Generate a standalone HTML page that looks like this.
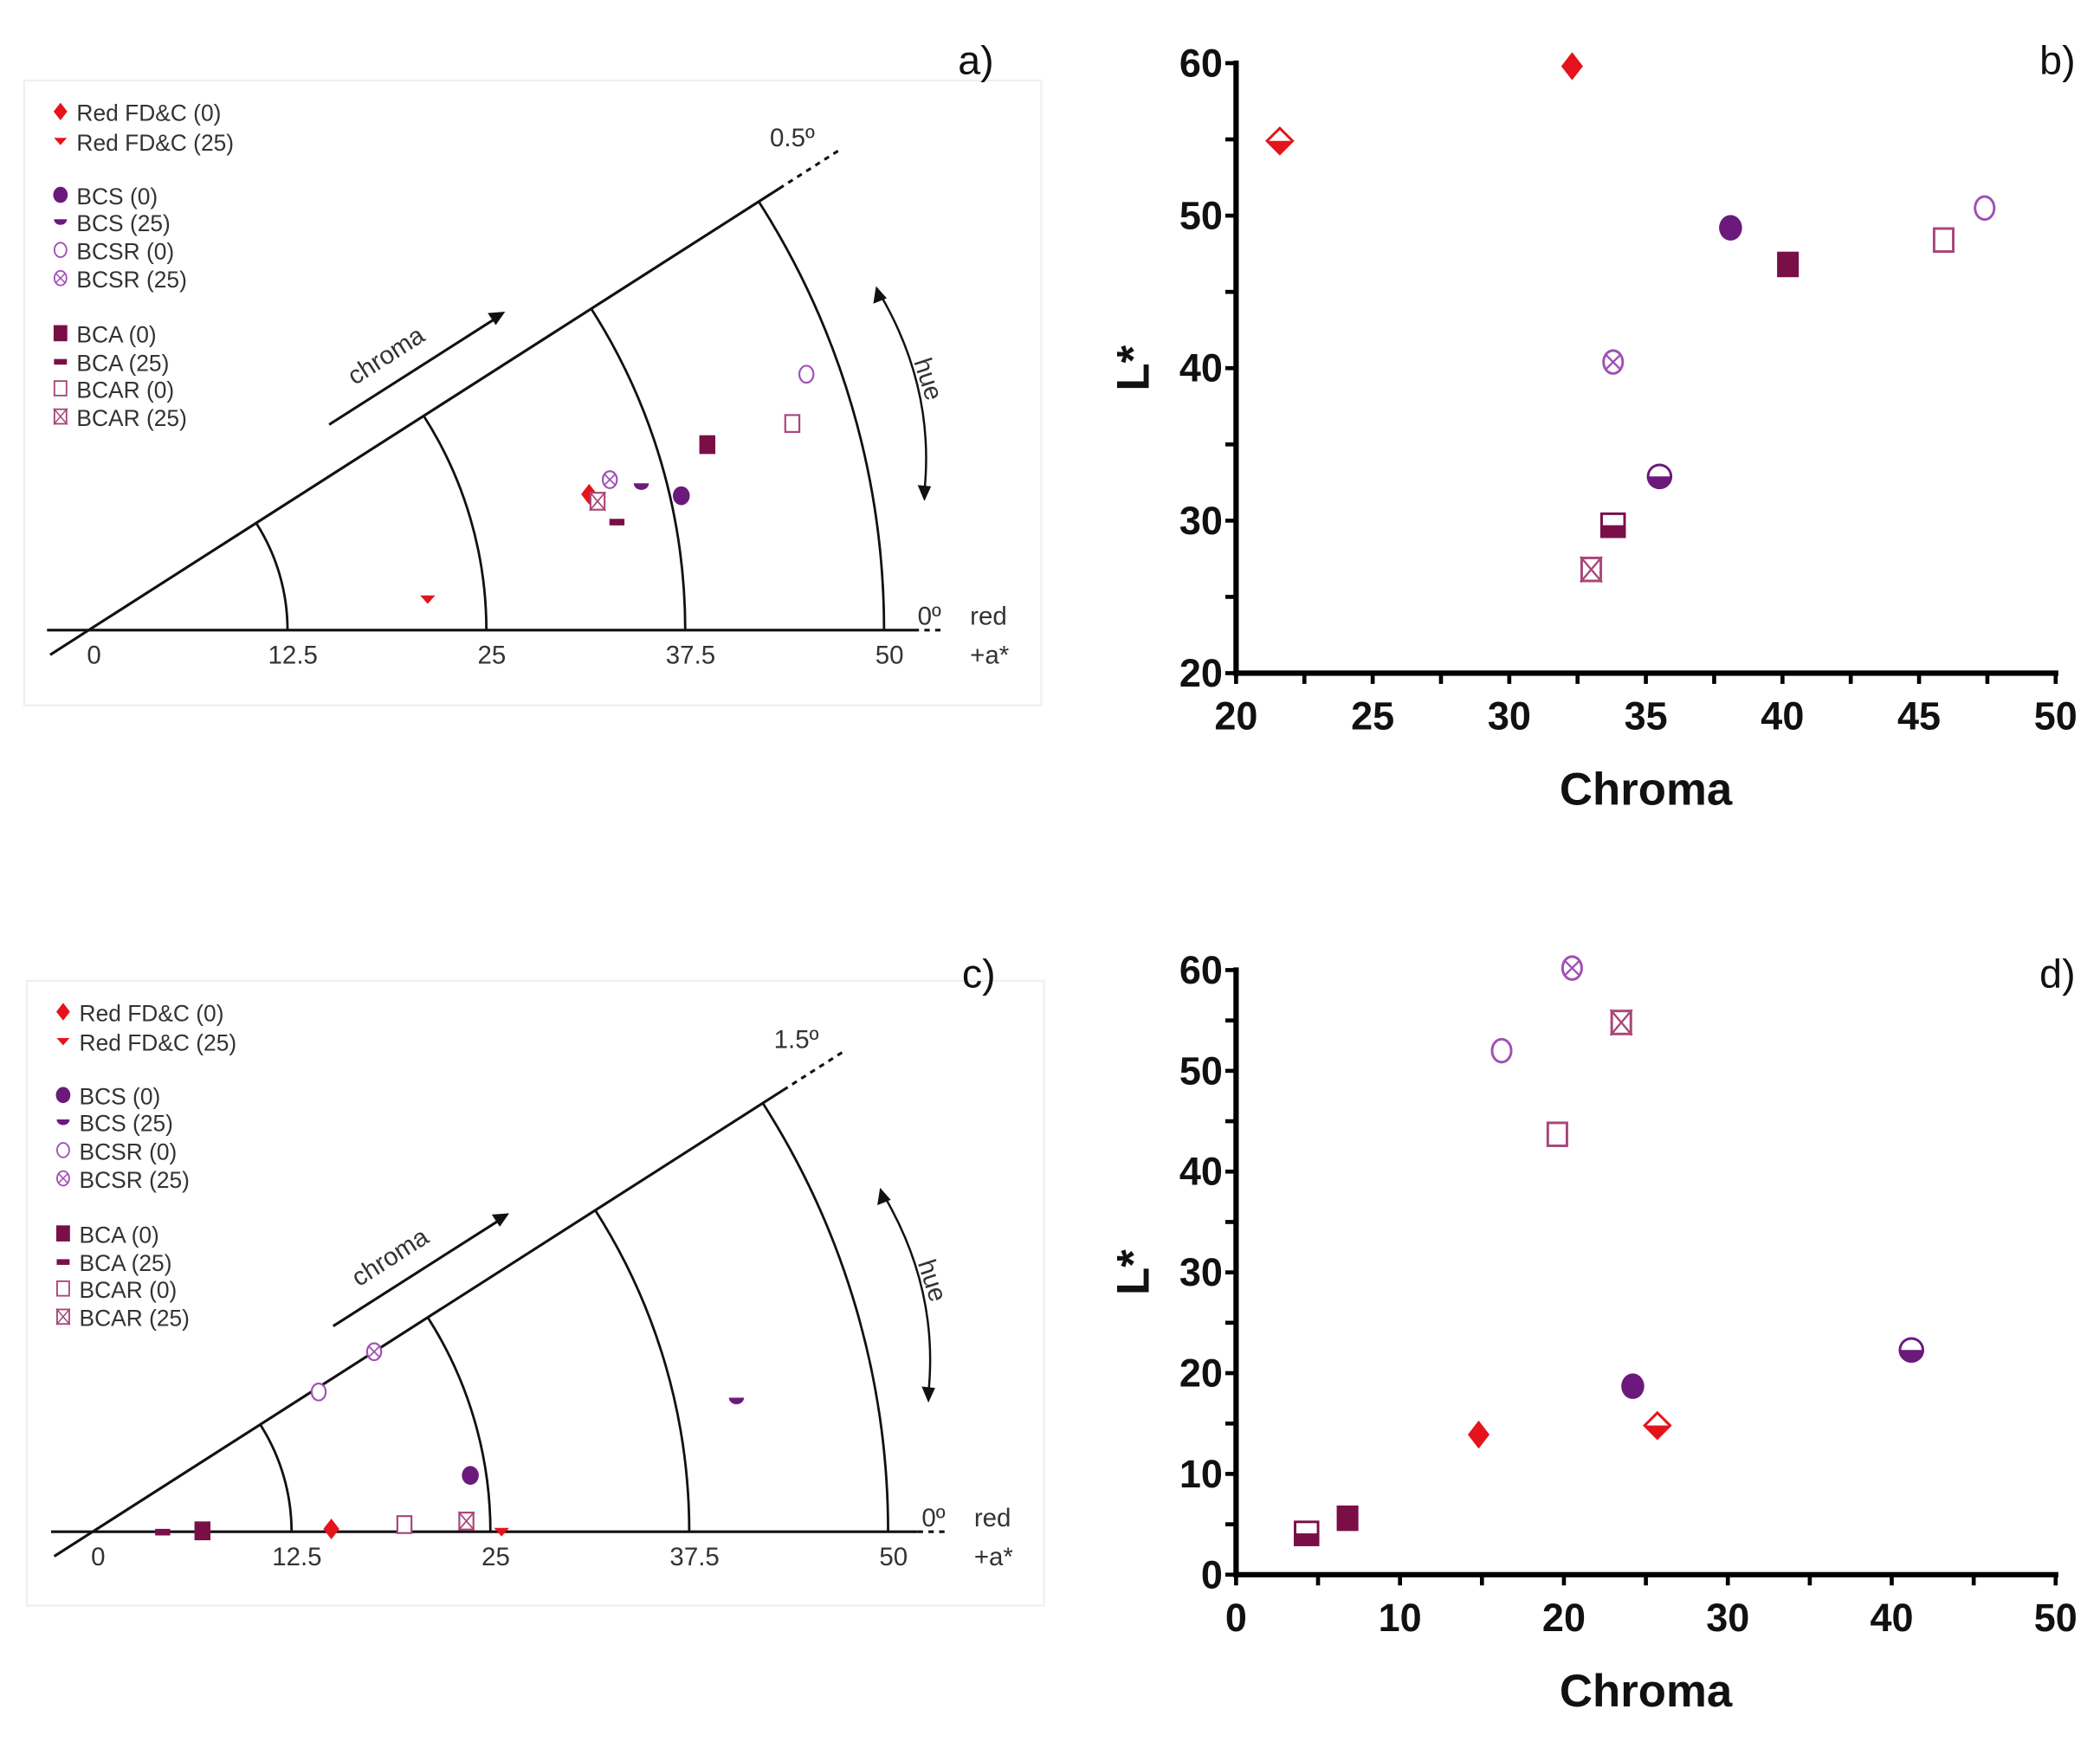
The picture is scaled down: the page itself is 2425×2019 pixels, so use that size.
<!DOCTYPE html>
<html><head><meta charset="utf-8"><style>
html,body{margin:0;padding:0;background:#fff;}
svg{display:block;}
text{font-family:"Liberation Sans",sans-serif;}
.lg{font-size:17px;fill:#333;font-family:"Liberation Sans Narrow","Liberation Sans",sans-serif;}
.pl{font-size:19px;fill:#333;}
.tk{font-size:29px;font-weight:bold;fill:#111;font-family:"Liberation Sans Narrow","Liberation Sans",sans-serif;}
.at{font-size:34px;font-weight:bold;fill:#111;}
.pn{font-size:30px;fill:#111;}
</style></head><body>
<svg id="fig" width="2425" height="2019" viewBox="0 0 1563 1301" preserveAspectRatio="none" xmlns="http://www.w3.org/2000/svg">
<rect x="0" y="0" width="1563" height="1301" fill="#fff"/>
<rect x="18" y="60" width="757" height="465" fill="none" stroke="#f0f0f0" stroke-width="1.5"/>
<rect x="20" y="730" width="757" height="465" fill="none" stroke="#f0f0f0" stroke-width="1.5"/>
<g id="pa"></g>
<g id="pc"></g>
<g id="pb"></g>
<g id="pd"></g>
<text class="pn" x="713" y="55">a)</text>
<text class="pn" x="1518" y="55">b)</text>
<text class="pn" x="716" y="735">c)</text>
<text class="pn" x="1518" y="735">d)</text>
</svg>
<script>
const NS="http://www.w3.org/2000/svg";
const seriesNames=["Red FD&C (0)","Red FD&C (25)","BCS (0)","BCS (25)","BCSR (0)","BCSR (25)","BCA (0)","BCA (25)","BCAR (0)","BCAR (25)"];
const seriesShapes=["diamond","halfdiamond","circle","halfcircle","ocircle","xcircle","square","halfsquare","osquare","xsquare"];
const seriesColors=["#e5131b","#e5131b","#6b1a7c","#6b1a7c","#a050b5","#a050b5","#7a0f47","#7a0f47","#a8467a","#a8467a"];
// panel a (hue angle wedge 0..0.5 deg)
const aChroma=[32.6,21.4,38.2,35.9,47.9,34.1,40.6,33.9,46.1,33.0];
const aHue=[0.233,0.080,0.196,0.224,0.301,0.247,0.256,0.178,0.251,0.218];
// panel c (hue angle wedge 0..1.5 deg)
const cChroma=[15.0,25.7,24.0,41.3,16.7,21.0,6.9,4.4,19.6,23.5];
const cHue=[0.03,0.0,0.39,0.53,1.46,1.50,0.02,0.0,0.06,0.075];
// panel b
const bChroma=[32.3,21.6,38.1,35.5,47.4,33.8,40.2,33.8,45.9,33.0];
const bL=[59.8,54.9,49.2,32.9,50.5,40.4,46.8,29.7,48.4,26.8];
// panel d
const dChroma=[14.8,25.7,24.2,41.2,16.2,20.5,6.8,4.3,19.6,23.5];
const dL=[13.9,14.8,18.7,22.3,52.0,60.2,5.6,4.1,43.7,54.8];
const polarTicks=[0,12.5,25,37.5,50];
const polarTickLabels=["0","12.5","25","37.5","50"];
const bXTicks=[20,25,30,35,40,45,50];
const bYTicks=[20,30,40,50,60];
const dXTicks=[0,10,20,30,40,50];
const dYTicks=[0,10,20,30,40,50,60];

function mk(tag,attrs,parent){const e=document.createElementNS(NS,tag);for(const k in attrs)e.setAttribute(k,attrs[k]);parent.appendChild(e);return e;}

function marker(parent,shape,cx,cy,s,col,polar){
  const g=mk("g",{},parent);
  const h=s/2, sw=Math.max(1.2,s/10);
  if(shape==="diamond"){mk("polygon",{points:`${cx},${cy-h*1.1} ${cx+h*0.85},${cy} ${cx},${cy+h*1.1} ${cx-h*0.85},${cy}`,fill:col},g);}
  else if(shape==="halfdiamond"){
    if(polar){mk("polygon",{points:`${cx-h*0.8},${cy-h*0.4} ${cx+h*0.8},${cy-h*0.4} ${cx},${cy+h*0.5}`,fill:col},g);}
    else{mk("polygon",{points:`${cx-h},${cy} ${cx+h},${cy} ${cx},${cy+h}`,fill:col},g);
      mk("polygon",{points:`${cx},${cy-h} ${cx+h},${cy} ${cx},${cy+h} ${cx-h},${cy}`,fill:"none",stroke:col,"stroke-width":sw},g);}
  }
  else if(shape==="circle"){mk("ellipse",{cx:cx,cy:cy,rx:h*0.9,ry:h,fill:col},g);}
  else if(shape==="halfcircle"){
    if(polar){mk("path",{d:`M${cx-h*0.8},${cy-h*0.3} A${h*0.8},${h*0.7} 0 0 0 ${cx+h*0.8},${cy-h*0.3} Z`,fill:col},g);}
    else{mk("path",{d:`M${cx-h},${cy} A${h},${h} 0 0 0 ${cx+h},${cy} Z`,fill:col},g);
      mk("circle",{cx:cx,cy:cy,r:h-sw/2,fill:"none",stroke:col,"stroke-width":sw},g);}
  }
  else if(shape==="ocircle"||shape==="xcircle"){
    mk("ellipse",{cx:cx,cy:cy,rx:h*0.85-sw/2,ry:h-sw/2,fill:"#fff",stroke:col,"stroke-width":sw},g);
    if(shape==="xcircle"){const d=h*0.6;
      mk("line",{x1:cx-d,y1:cy-d,x2:cx+d,y2:cy+d,stroke:col,"stroke-width":sw*0.8},g);
      mk("line",{x1:cx-d,y1:cy+d,x2:cx+d,y2:cy-d,stroke:col,"stroke-width":sw*0.8},g);}
  }
  else if(shape==="square"){mk("rect",{x:cx-h*0.85,y:cy-h,width:h*1.7,height:h*2,fill:col},g);}
  else if(shape==="halfsquare"){
    if(polar){mk("rect",{x:cx-h*0.8,y:cy-h*0.3,width:h*1.6,height:h*0.7,fill:col},g);}
    else{mk("rect",{x:cx-h,y:cy,width:h*2,height:h,fill:col},g);
      mk("rect",{x:cx-h+sw/2,y:cy-h+sw/2,width:h*2-sw,height:h*2-sw,fill:"none",stroke:col,"stroke-width":sw},g);}
  }
  else if(shape==="osquare"||shape==="xsquare"){
    mk("rect",{x:cx-h*0.85+sw/2,y:cy-h+sw/2,width:h*1.7-sw,height:h*2-sw,fill:"#fff",stroke:col,"stroke-width":sw},g);
    if(shape==="xsquare"){
      mk("line",{x1:cx-h*0.85,y1:cy-h,x2:cx+h*0.85,y2:cy+h,stroke:col,"stroke-width":sw*0.8},g);
      mk("line",{x1:cx-h*0.85,y1:cy+h,x2:cx+h*0.85,y2:cy-h,stroke:col,"stroke-width":sw*0.8},g);}
  }
  return g;
}

const WEDGE=32.6*Math.PI/180, PX=11.84;
function drawPolar(gid,ox,oy,maxHue,maxLabel,chroma,hue,dx,dy,letter){
  const g=document.getElementById(gid);
  const pos=(r,hv)=>{const a=hv/maxHue*WEDGE;return [ox+r*PX*Math.cos(a),oy-r*PX*Math.sin(a)];};
  const base=mk("line",{x1:ox-31,y1:oy,x2:ox+614,y2:oy,stroke:"#111","stroke-width":2},g);
  
  
  mk("line",{x1:ox+614,y1:oy,x2:ox+636,y2:oy,stroke:"#111","stroke-width":2,"stroke-dasharray":"4,4"},g);
  const c=Math.cos(WEDGE),s=Math.sin(WEDGE);
  const diag=mk("line",{x1:ox-34*c,y1:oy+34*s,x2:ox+610*c,y2:oy-610*s,stroke:"#111","stroke-width":2},g);
  
  
  mk("line",{x1:ox+610*c,y1:oy-610*s,x2:ox+664*c,y2:oy-664*s,stroke:"#111","stroke-width":2,"stroke-dasharray":"4,4"},g);
  polarTicks.forEach((t,i)=>{
    if(t>0){const R=t*PX;const p=pos(t,maxHue);
      const arc=mk("path",{d:`M${ox+R},${oy} A${R},${R} 0 0 0 ${p[0]},${p[1]}`,fill:"none",stroke:"#111","stroke-width":1.8},g);
      
      }
    const tx=mk("text",{x:ox+t*PX+4,y:oy+25,"text-anchor":"middle",class:"pl"},g);
    tx.textContent=polarTickLabels[i];
    
    
  });
  const lab=(txt,x,y,name,extra)=>{const t=mk("text",Object.assign({x:x,y:y,class:"pl"},extra||{}),g);t.textContent=txt;
    
    return t;};
  lab(maxLabel,ox+507,oy-360,"max-hue-label",{"font-size":"21"});
  lab("0º",ox+617,oy-4,"zero-hue-label",{"font-size":"21"});
  lab("red",ox+656,oy-4,"red-label",{"font-size":"21"});
  lab("+a*",ox+656,oy+25,"a-star-label",{"font-size":"21"});
  lab("chroma",ox+198,oy-182,"chroma-label",{"font-size":"23",transform:`rotate(-32.6 ${ox+198} ${oy-182})`});
  const ar=mk("line",{x1:ox+179,y1:oy-153,x2:ox+306,y2:oy-234,stroke:"#111","stroke-width":2},g);
  
  
  mk("polygon",{points:`${ox+310},${oy-237} ${ox+297},${oy-236} ${ox+303},${oy-227}`,fill:"#111"},g);
  lab("hue",ox+614,oy-200,"hue-label",{"font-size":"23",transform:`rotate(72 ${ox+614} ${oy-200})`});
  const ha=mk("path",{d:`M${ox+589},${oy-250} Q${ox+630},${oy-180} ${ox+622},${oy-103}`,fill:"none",stroke:"#111","stroke-width":1.6},g);
  
  
  mk("polygon",{points:`${ox+586},${oy-256} ${ox+584},${oy-243} ${ox+594},${oy-247}`,fill:"#111"},g);
  mk("polygon",{points:`${ox+622},${oy-96} ${ox+617},${oy-108} ${ox+627},${oy-107}`,fill:"#111"},g);
  const ly=[84,106,146,166,187,208,249,270,290,311];
  seriesNames.forEach((n,i)=>{
    const lg=mk("g",{},g);
    
    
    marker(lg,seriesShapes[i],45+dx,ly[i]+dy-1,12,seriesColors[i],true);
    const t=mk("text",{x:57+dx,y:ly[i]+dy+6,class:"lg"},lg);t.textContent=n;
  });
  chroma.forEach((r,i)=>{const p=pos(r,hue[i]);
    const m=marker(g,seriesShapes[i],p[0],p[1],14,seriesColors[i],true);
    
    });
}
drawPolar("pa",66,469,0.5,"0.5º",aChroma,aHue,0,0,"a");
drawPolar("pc",69,1140,1.5,"1.5º",cChroma,cHue,2,670,"c");

function drawScatter(gid,x0,x1,xmin,xmax,y0,y1,ymin,ymax,xT,yT,xMinor,yMinor,xs,ys,letter){
  const g=document.getElementById(gid);
  const X=v=>x0+(v-xmin)*(x1-x0)/(xmax-xmin);
  const Y=v=>y0-(v-ymin)*(y0-y1)/(ymax-ymin);
  const xa=mk("line",{x1:x0-2,y1:y0,x2:x1+2,y2:y0,stroke:"#000","stroke-width":4},g);
  
  
  const ya=mk("line",{x1:x0,y1:y0+2,x2:x0,y2:y1-2,stroke:"#000","stroke-width":4},g);
  
  
  for(let v=xmin;v<=xmax+1e-9;v+=xMinor){mk("line",{x1:X(v),y1:y0,x2:X(v),y2:y0+8,stroke:"#000","stroke-width":3},g);}
  for(let v=ymin;v<=ymax+1e-9;v+=yMinor){mk("line",{x1:x0-8,y1:Y(v),x2:x0,y2:Y(v),stroke:"#000","stroke-width":3},g);}
  xT.forEach(v=>{const t=mk("text",{x:X(v),y:y0+42,"text-anchor":"middle",class:"tk"},g);t.textContent=v;
    
    });
  yT.forEach(v=>{const t=mk("text",{x:x0-10,y:Y(v)+10,"text-anchor":"end",class:"tk"},g);t.textContent=v;
    
    });
  const xt=mk("text",{x:(x0+x1)/2,y:y0+98,"text-anchor":"middle",class:"at"},g);xt.textContent="Chroma";
  
  
  const cy=(y0+y1)/2;
  const yt=mk("text",{x:855,y:cy,"text-anchor":"middle",class:"at",transform:`rotate(-90 855 ${cy})`},g);yt.textContent="L*";
  
  
  xs.forEach((v,i)=>{
    const m=marker(g,seriesShapes[i],X(v),Y(ys[i]),19,seriesColors[i],false);
    
    });
}
drawScatter("pb",920,1530,20,50,501,47,20,60,bXTicks,bYTicks,2.5,5,bChroma,bL,"b");
drawScatter("pd",920,1530,0,50,1172,722,0,60,dXTicks,dYTicks,5,5,dChroma,dL,"d");
</script>
</body></html>
